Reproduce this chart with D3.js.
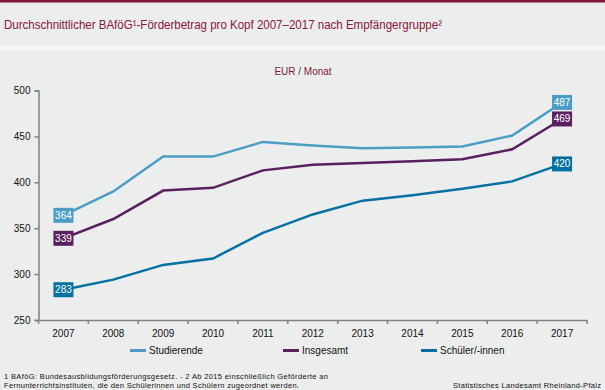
<!DOCTYPE html>
<html><head><meta charset="utf-8">
<script src="https://cdn.jsdelivr.net/npm/d3@7"></script>
<style>html,body{margin:0;padding:0;background:#eceeed;}svg{display:block;font-family:"Liberation Sans",Arial,sans-serif;}</style>
</head><body><svg id="c" width="605" height="390"></svg>
<script>
const years = ["2007","2008","2009","2010","2011","2012","2013","2014","2015","2016","2017"];
const studierende = [364, 390, 428, 428, 444, 440, 437, 438, 439, 451, 487];
const insgesamt   = [339, 360, 391, 394, 413, 419, 421, 423, 425, 436, 469];
const schueler    = [283, 294, 310, 317, 345, 365, 380, 386, 393, 401, 420];
const yTicks = [250, 300, 350, 400, 450, 500];
const seriesNames = ["Studierende", "Insgesamt", "Schüler/-innen"];
const seriesColors = ["#4b9dc4", "#5a1f5e", "#0570a1"];

const svg = d3.select("#c");
svg.append("rect").attr("x",0).attr("y",0).attr("width",605).attr("height",390).attr("fill","#eceeed");
svg.append("rect").attr("x",0).attr("y",0).attr("width",605).attr("height",2.5).attr("fill","#7d1a33");
svg.append("rect").attr("x",0).attr("y",46).attr("width",605).attr("height",4).attr("fill","#f8f8f8");

svg.append("text").attr("x",4).attr("y",29).attr("fill","#8a1538").attr("font-size",12.5)
  .attr("textLength",438).attr("lengthAdjust","spacingAndGlyphs")
  .text("Durchschnittlicher BAföG\u00B9-Förderbetrag pro Kopf 2007–2017 nach Empfängergruppe\u00B2");

svg.append("text").attr("x",303).attr("y",75).attr("text-anchor","middle").attr("fill","#7d1a33").attr("font-size",10).text("EUR / Monat");

const x = d3.scaleBand().domain(years).range([38.5, 587]).padding(0);
const y = d3.scaleLinear().domain([250, 500]).range([320, 90.5]);

const yAxis = svg.append("g").attr("transform","translate(38.5,0)")
  .call(d3.axisLeft(y).tickValues(yTicks).tickSize(4).tickPadding(4));
yAxis.select(".domain").attr("stroke","#808080").attr("stroke-width",1.5);
yAxis.selectAll(".tick line").attr("stroke","#808080").attr("stroke-width",1.5);
yAxis.selectAll("text").attr("font-size",10).attr("fill","#111").attr("font-family","Liberation Sans, Arial, sans-serif");

const xAxis = svg.append("g").attr("transform","translate(0,320)")
  .call(d3.axisBottom(x).tickSize(0).tickPadding(10));
xAxis.select(".domain").attr("stroke","#808080").attr("stroke-width",1.5);
xAxis.selectAll("text").attr("font-size",10).attr("fill","#111").attr("font-family","Liberation Sans, Arial, sans-serif");
const bounds = years.map(d => x(d)).concat([x(years[years.length-1]) + x.bandwidth()]);
svg.append("g").selectAll("line").data(bounds).join("line")
  .attr("x1", d => d).attr("x2", d => d).attr("y1", 320).attr("y2", 324)
  .attr("stroke","#808080").attr("stroke-width",1.5);

const data = [studierende, insgesamt, schueler];
const cx = d => x(d) + x.bandwidth()/2;
const line = d3.line().x((v,i) => cx(years[i])).y(v => y(v));

data.forEach((s, k) => {
  svg.append("path").datum(s).attr("d", line).attr("fill","none")
    .attr("stroke", seriesColors[k]).attr("stroke-width", 2.5);
});
data.forEach((s, k) => {
  [0, s.length-1].forEach(i => {
    const px = cx(years[i]), py = y(s[i]);
    svg.append("rect").attr("x", px-10).attr("y", py-7.5).attr("width",20).attr("height",15).attr("fill", seriesColors[k]);
    svg.append("text").attr("x", px).attr("y", py+3.5).attr("text-anchor","middle")
      .attr("fill","#fff").attr("font-size",10).text(s[i]);
  });
});

const legX = [130, 283, 421];
seriesNames.forEach((n, k) => {
  svg.append("rect").attr("x", legX[k]).attr("y", 349).attr("width", 16).attr("height", 3).attr("fill", seriesColors[k]);
  svg.append("text").attr("x", legX[k]+19).attr("y", 354).attr("font-size",10).attr("fill","#111").text(n);
});

svg.append("text").attr("x",4).attr("y",379).attr("font-size",7.5).attr("fill","#111")
  .attr("textLength",324).attr("lengthAdjust","spacing")
  .text("1 BAföG: Bundesausbildungsförderungsgesetz.  - 2 Ab 2015 einschließlich Geförderte an");
svg.append("text").attr("x",4).attr("y",388).attr("font-size",7.5).attr("fill","#111")
  .attr("textLength",295).attr("lengthAdjust","spacing")
  .text("Fernunterrichtsinstituten, die den Schülerinnen und Schülern zugeordnet werden.");
svg.append("text").attr("x",453).attr("y",388).attr("font-size",7.5).attr("fill","#111")
  .attr("textLength",148).attr("lengthAdjust","spacing")
  .text("Statistisches Landesamt Rheinland-Pfalz");
</script></body></html>
